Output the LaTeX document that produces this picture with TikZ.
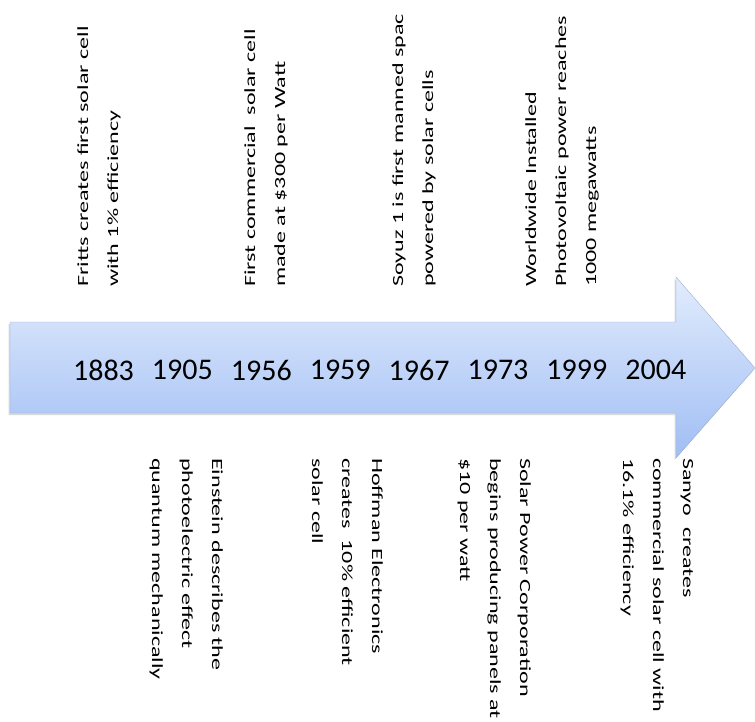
\documentclass[tikz,border=0pt]{standalone}
\usepackage{fontspec}
\setmainfont{Carlito}
\usetikzlibrary{shadows}

\definecolor{arrowtop}{RGB}{226,236,253}
\definecolor{arrowbot}{RGB}{160,190,244}
\definecolor{arrowline}{RGB}{158,174,202}
\newcommand{\evtlines}[1]{\scalebox{1.55}[1]{\fontsize{15.5}{30}\selectfont\begin{tabular}[t]{@{}l@{}}#1\end{tabular}}}

\begin{document}
\begin{tikzpicture}[x=1pt,y=-1pt,
    year/.style={font=\fontsize{30}{36}\selectfont,inner sep=0pt},
    above event/.style={rotate=90,anchor=base west,inner sep=0pt},
    below event/.style={rotate=-90,anchor=base west,inner sep=0pt}]
\useasboundingbox (0,0) rectangle (755,721);
\clip (0,0) rectangle (755,721);
\path[draw=arrowline,top color=arrowtop,bottom color=arrowbot,
      drop shadow={shadow xshift=-1.5pt,shadow yshift=-2pt,opacity=0.3}]
  (10,322) -- (676,322) -- (676,277) -- (755,368) -- (676,458) -- (676,413) -- (10,413) -- cycle;
\foreach \yr [count=\i from 0] in {1883,1905,1956,1959,1967,1973,1999,2004}
  \node[year] (yr\yr) at ({103.5+78.9*\i},370) {\yr};
\node[above event] (fritts) at (88,287) {\evtlines{Fritts creates first solar cell\\with 1\% efficiency}};
\node[above event] (commercial) at (255,287) {\evtlines{First commercial\ \ solar cell\\made at \$300 per Watt}};
\node[above event] (soyuz) at (403,287) {\evtlines{Soyuz 1 is first manned spac\\powered by solar cells}};
\node[above event] (worldwide) at (536,287) {\evtlines{Worldwide Installed\\Photovoltaic power reaches\\1000 megawatts}};
\node[below event] (einstein) at (212,458) {\evtlines{Einstein describes the\\photoelectric effect\\quantum mechanically}};
\node[below event] (hoffman) at (372,458) {\evtlines{Hoffman Electronics\\creates\ \ 10\% efficient\\solar cell}};
\node[below event] (solarpower) at (520,458) {\evtlines{Solar Power Corporation\\begins producing panels at\\\$10 per watt}};
\node[below event] (sanyo) at (683,458) {\evtlines{Sanyo\ \ creates\\commercial solar cell with\\16.1\% efficiency}};
\end{tikzpicture}
\end{document}
